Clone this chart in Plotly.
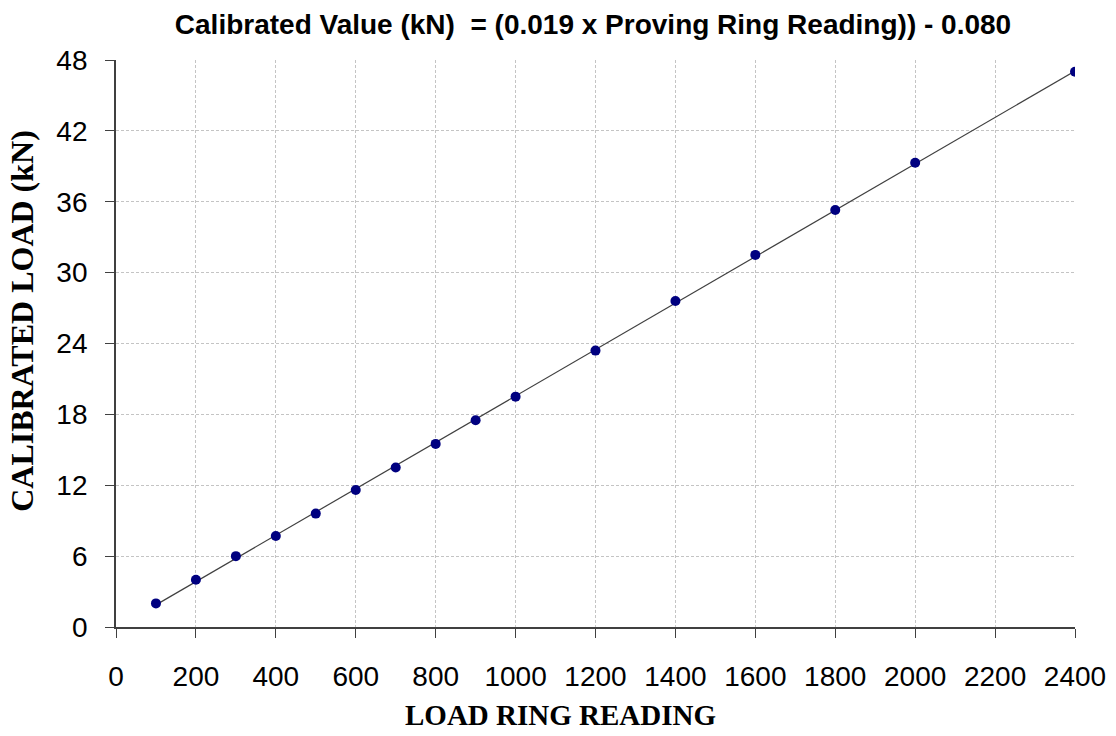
import numpy as np
import plotly.graph_objects as go

readings = [100, 200, 300, 400, 500, 600, 700, 800, 900, 1000, 1200, 1400, 1600, 1800, 2000, 2400]
loads = [2.0, 4.0, 6.0, 7.7, 9.6, 11.6, 13.5, 15.5, 17.5, 19.5, 23.4, 27.6, 31.5, 35.3, 39.3, 47.0]
x_ticks = list(range(0, 2401, 200))
y_ticks = list(range(0, 49, 6))

slope, intercept = np.polyfit(readings, loads, 1)
fit_x = [min(readings), max(readings)]
fit_y = [slope * v + intercept for v in fit_x]

fig = go.Figure()
fig.add_trace(go.Scatter(x=fit_x, y=fit_y, mode="lines",
                         line=dict(color="#404040", width=1.2), hoverinfo="skip"))
fig.add_trace(go.Scatter(x=readings, y=loads, mode="markers",
                         marker=dict(color="#000080", size=10)))

axis_common = dict(
    showline=True, linecolor="#404040", linewidth=1.8,
    ticks="outside", ticklen=9, tickcolor="#404040", tickwidth=1.2,
    showgrid=True, gridcolor="#c4c4c4", griddash="3px,2px", gridwidth=1,
    zeroline=False, ticklabeloverflow="allow", automargin=False,
    tickfont=dict(family="Liberation Sans, Arial", size=28, color="black"),
)

W = 1100
fig.update_layout(
    width=W, height=720,
    margin=dict(l=108, r=33, t=52, b=101),
    paper_bgcolor="white", plot_bgcolor="white",
    showlegend=False,
    title=dict(text="<b>Calibrated Value (kN)  = (0.019 x Proving Ring Reading)) - 0.080</b>",
               x=585 / W, xanchor="center", y=0.977, yanchor="middle",
               font=dict(family="Liberation Sans, Arial", size=28, color="black")),
    xaxis=dict(range=[0, 2400], tickvals=x_ticks, ticktext=[str(v) for v in x_ticks],
               ticklabelstandoff=14, **axis_common),
    yaxis=dict(range=[0, 48], tickvals=y_ticks, ticktext=[str(v) for v in y_ticks],
               ticklabelstandoff=12, **axis_common),
    annotations=[
        dict(text="<b>LOAD RING READING</b>", xref="paper", yref="paper",
             x=0.463, y=-0.155, xanchor="center", yanchor="middle", showarrow=False,
             font=dict(family="Liberation Serif, Times New Roman", size=29, color="black")),
        dict(text="<b>CALIBRATED LOAD (kN)</b>", xref="paper", yref="paper",
             x=-0.098, y=0.54, xanchor="center", yanchor="middle", textangle=-90,
             showarrow=False,
             font=dict(family="Liberation Serif, Times New Roman", size=32, color="black")),
    ],
)

fig.write_html("out.html")
